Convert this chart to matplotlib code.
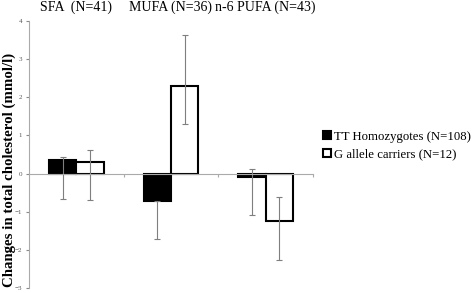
import numpy as np
import matplotlib.pyplot as plt

groups = ["SFA  (N=41)", "MUFA (N=36)", "n-6 PUFA (N=43)"]
series = ["TT Homozygotes (N=108)", "G allele carriers (N=12)"]
tt_vals = [0.35, -0.73, -0.10]
tt_err_low = [1.02, 0.99, 0.99]
tt_err_high = [0.08, 0.0, 0.23]
g_vals = [0.29, 2.30, -1.25]
g_err_low = [0.99, 1.01, 1.01]
g_err_high = [0.33, 1.32, 0.64]

plt.rcParams['font.family'] = ['Liberation Serif', 'DejaVu Serif']

fig = plt.figure(figsize=(4.72, 2.93), dpi=100)
ax = fig.add_axes([0.0614, 0.0171, 0.6017, 0.9113])

x = np.arange(len(groups))
w = 0.29
err_kw = dict(ecolor='#7f7f7f', elinewidth=0.8, capsize=2, capthick=0.8)
ax.bar(x - w / 2, tt_vals, w, color='black', edgecolor='black', linewidth=1.5,
       yerr=[tt_err_low, tt_err_high], error_kw=err_kw, label=series[0])
ax.bar(x + w / 2, g_vals, w, color='white', edgecolor='black', linewidth=1.5,
       yerr=[g_err_low, g_err_high], error_kw=err_kw, label=series[1])

ax.set_xlim(-0.5, 2.5)
ax.set_ylim(-3, 4)
ax.set_yticks(range(-3, 5))
ax.tick_params(axis='y', labelsize=5, length=2, color='#888888', labelcolor='#555555', pad=3)
ax.set_xticks([0.5, 1.5, 2.5])
ax.set_xticklabels([])
ax.tick_params(axis='x', length=2, color='#aaaaaa', direction='out')

for s in ['top', 'right']:
    ax.spines[s].set_visible(False)
ax.spines['bottom'].set_position(('data', 0))
ax.spines['bottom'].set_color('#aaaaaa')
ax.spines['left'].set_color('#aaaaaa')
ax.spines['bottom'].set_linewidth(0.8)
ax.spines['left'].set_linewidth(0.8)

for i, g in enumerate(groups):
    ax.text(i, 4.36, g, ha='center', va='center', fontsize=10, clip_on=False)

ax.set_ylabel("Changes in total cholesterol (mmol/l)", fontsize=10.7, fontweight='bold')
ax.yaxis.set_label_coords(-0.046, 0.442)

fig.legend(loc='center left', bbox_to_anchor=(0.684, 0.503), frameon=False, fontsize=9.2,
           handlelength=0.6, handleheight=0.6, handletextpad=0.3, labelspacing=0.45,
           borderaxespad=0, borderpad=0)

fig.savefig("out.png", dpi=100)
